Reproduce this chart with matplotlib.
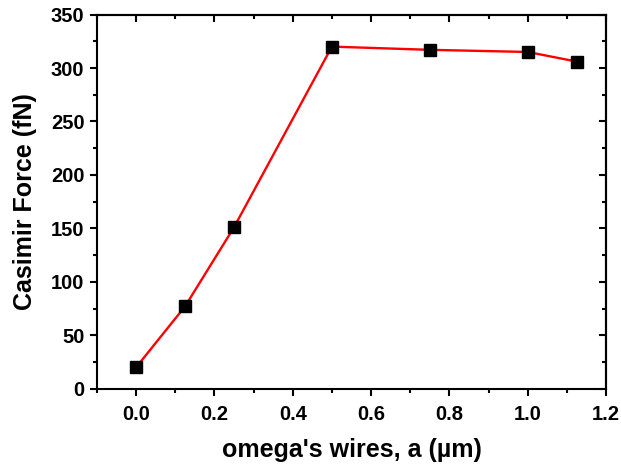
import matplotlib.pyplot as plt
from matplotlib.ticker import MultipleLocator

plt.rcParams['font.family'] = 'Liberation Sans'
plt.rcParams['font.weight'] = 'bold'

wire_a = [0.0, 0.125, 0.25, 0.5, 0.75, 1.0, 1.125]
casimir_force = [20, 77, 151, 320, 317, 315, 306]

fig = plt.figure(figsize=(6.21, 4.69), dpi=100)
ax = fig.add_axes([0.156, 0.171, 0.82, 0.798])

ax.plot(wire_a, casimir_force, color='red', lw=1.7, marker='s', ms=8,
        mfc='black', mec='black', zorder=3)

ax.set_xlim(-0.1, 1.2)
ax.set_ylim(0, 350)
ax.xaxis.set_major_locator(MultipleLocator(0.2))
ax.xaxis.set_minor_locator(MultipleLocator(0.1))
ax.yaxis.set_major_locator(MultipleLocator(50))
ax.yaxis.set_minor_locator(MultipleLocator(25))
ax.xaxis.set_major_formatter(plt.FormatStrFormatter('%.1f'))

ax.tick_params(which='major', direction='out', length=5, width=1.5, labelsize=14.5, pad=4)
ax.tick_params(which='minor', direction='out', length=3, width=1.5)
ax.tick_params(axis='x', which='major', pad=7)
for s in ax.spines.values():
    s.set_linewidth(1.5)

# mirrored ticks on top/right pointing inward
top = ax.secondary_xaxis('top')
top.xaxis.set_major_locator(MultipleLocator(0.2))
top.xaxis.set_minor_locator(MultipleLocator(0.1))
top.tick_params(which='major', direction='in', length=5, width=1.5, labeltop=False)
top.tick_params(which='minor', direction='in', length=3, width=1.5)
top.spines['top'].set_linewidth(1.5)
right = ax.secondary_yaxis('right')
right.yaxis.set_major_locator(MultipleLocator(50))
right.yaxis.set_minor_locator(MultipleLocator(25))
right.tick_params(which='major', direction='in', length=5, width=1.5, labelright=False)
right.tick_params(which='minor', direction='in', length=3, width=1.5)
right.spines['right'].set_linewidth(1.5)

ax.set_xlabel("omega's wires, a (\u00b5m)", fontsize=18, fontweight='bold', labelpad=10)
ax.set_ylabel("Casimir Force (fN)", fontsize=18, fontweight='bold', labelpad=10)

plt.savefig('out.png', dpi=100)
